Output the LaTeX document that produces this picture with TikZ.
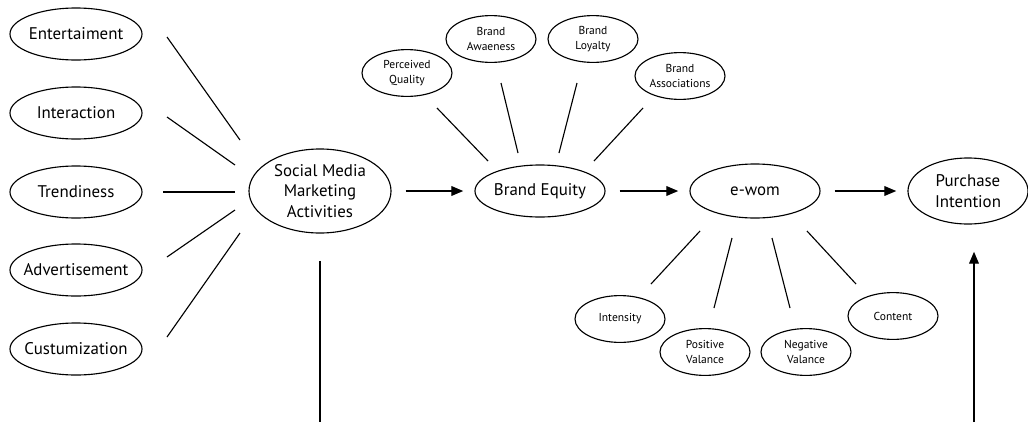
\documentclass[tikz,border=0pt]{standalone}
\usepackage{fontspec}
\setmainfont{PT Sans}
\usetikzlibrary{shapes.geometric,arrows.meta}

\begin{document}
\begin{tikzpicture}[x=0.025cm,y=-0.025cm,line width=0.8pt,
	oval/.style={draw,ellipse,inner xsep=-20pt,inner ysep=0pt,align=center},
	big/.style={oval,minimum width=3.3cm,minimum height=1.3cm,font=\fontsize{12}{14.5}\selectfont},
	small/.style={oval,minimum width=2.25cm,minimum height=1.17cm,font=\fontsize{8.2}{10.5}\selectfont},
	arr/.style={-{Triangle[length=8.5pt,width=7pt]},shorten <=0.35cm,shorten >=0.28cm}]
	\useasboundingbox (0,0) rectangle (1028,422);
	
	% factors of the marketing activities
	\node[big] (ent) at (76,34) {Entertaiment};
	\node[big] (int) at (76,113) {Interaction};
	\node[big] (trend) at (76,192) {Trendiness};
	\node[big] (adv) at (76,270) {Advertisement};
	\node[big] (cust) at (76,349) {Custumization};
	
	% main chain
	\node[big,minimum width=3.55cm,minimum height=2.1cm] (smma) at (320,191) {Social Media\\Marketing\\Activities};
	\node[big,minimum width=3.25cm] (be) at (540,191) {Brand Equity};
	\node[big,minimum width=3.25cm,minimum height=1.35cm] (ew) at (755,191) {e-wom};
	\node[big,minimum width=3.0cm,minimum height=1.65cm] (pi) at (968,191) {Purchase\\Intention};
	
	% brand equity dimensions
	\node[small] (pq) at (407,73) {Perceived\\Quality};
	\node[small] (baw) at (491,39) {Brand\\Awaeness};
	\node[small] (blo) at (593,39) {Brand\\Loyalty};
	\node[small] (bas) at (680,76) {Brand\\Associations};
	
	% e-wom dimensions
	\node[small] (inten) at (620,319) {Intensity};
	\node[small] (pv) at (705,352) {Positive\\Valance};
	\node[small] (nv) at (806,352) {Negative\\Valance};
	\node[small] (cont) at (893,316) {Content};
	
	% free line ends
	\foreach \n/\x/\y in {ent-o/167/37, ent-i/240/140, int-o/167/117, int-i/235/165,
		trend-o/163/192, trend-i/235/192, adv-o/167/257, adv-i/235/210,
		cust-o/167/337, cust-i/240/233,
		pq-o/437/108, pq-i/488/161, baw-o/501/83, baw-i/518/153,
		blo-o/577/83, blo-i/559/153, bas-o/643/108, bas-i/594/161,
		inten-o/651/284, inten-i/700/231, pv-o/714/308, pv-i/732/238,
		nv-o/790/308, nv-i/772/238, cont-o/856/284, cont-i/807/231,
		smma-b/320/422, pi-b/974/422}
	{\coordinate (\n) at (\x,\y);}
	
	\foreach \k in {ent,int,trend,adv,cust,pq,baw,blo,bas,inten,pv,nv,cont}
	\draw (\k-o) -- (\k-i);
	
	\draw[arr] (smma) -- (be);
	\draw[arr] (be) -- (ew);
	\draw[arr] (ew) -- (pi);
	
	\draw[shorten <=0.68cm] (smma.south) -- (smma-b);
	\draw[-{Triangle[length=8.5pt,width=7pt]},shorten >=0.68cm] (pi-b) -- (pi-b |- pi.south);
\end{tikzpicture}
\end{document}
